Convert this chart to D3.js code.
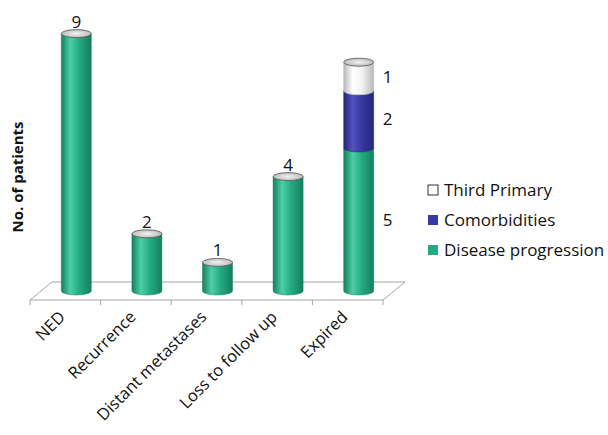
<!DOCTYPE html>
<html>
<head>
<meta charset="utf-8">
<script src="https://cdn.jsdelivr.net/npm/d3@7"></script>
<style>
  html, body { margin: 0; padding: 0; background: #fff; }
  svg { display: block; }
  text { font-family: "Open Sans", "Liberation Sans", sans-serif; fill: #111; }
</style>
</head>
<body>
<svg id="chart" width="608" height="435"></svg>
<script>
// Patient outcome categories and counts
const categories = ["NED", "Recurrence", "Distant metastases", "Loss to follow up", "Expired"];
const diseaseProgression = [9, 2, 1, 4, 5];
const comorbidities = [0, 0, 0, 0, 2];
const thirdPrimary = [0, 0, 0, 0, 1];
const seriesNames = ["Third Primary", "Comorbidities", "Disease progression"];
const yMax = 9;

const svg = d3.select("#chart");
const defs = svg.append("defs");

// floor geometry (oblique 3D floor)
const floorLeft = 30, floorRight = 383, floorFront = 300;
const depthX = 22, depthY = 18;

const x = d3.scaleBand().domain(categories).range([floorLeft, floorRight]).padding(0);
const y = d3.scaleLinear().domain([0, yMax]).range([floorFront - depthY / 2, 33.6]);

const palette = {
  "Disease progression": { dark: "#157f60", mid: "#24aa82", light: "#4ccfa4" },
  "Comorbidities": { dark: "#26267a", mid: "#3838a4", light: "#5252be" },
  "Third Primary": { dark: "#b8b8b8", mid: "#f4f4f4", light: "#ffffff" }
};
Object.entries(palette).forEach(([name, c], i) => {
  const g = defs.append("linearGradient").attr("id", "grad" + i)
    .attr("x1", "0").attr("x2", "1").attr("y1", "0").attr("y2", "0");
  g.append("stop").attr("offset", "0%").attr("stop-color", c.dark);
  g.append("stop").attr("offset", "30%").attr("stop-color", c.light);
  g.append("stop").attr("offset", "60%").attr("stop-color", c.mid);
  g.append("stop").attr("offset", "100%").attr("stop-color", c.dark);
  c.id = "grad" + i;
});
const capGrad = defs.append("radialGradient").attr("id", "capGrad");
capGrad.append("stop").attr("offset", "0%").attr("stop-color", "#f2f2f2");
capGrad.append("stop").attr("offset", "100%").attr("stop-color", "#bdbdbd");

// floor
svg.append("path")
  .attr("d", `M${floorLeft},${floorFront} L${floorLeft + depthX},${floorFront - depthY} L${floorRight + depthX},${floorFront - depthY} L${floorRight},${floorFront} Z`)
  .attr("fill", "#fff").attr("stroke", "#a6a6a6").attr("stroke-width", 1);

// ticks on the front floor edge at band boundaries
const tickXs = categories.map(c => x(c)).concat([floorRight]);
svg.selectAll("line.tick").data(tickXs).join("line")
  .attr("x1", d => d).attr("x2", d => d)
  .attr("y1", floorFront).attr("y2", floorFront + 5)
  .attr("stroke", "#a6a6a6");

// stacked cylinders
const rx = 15, ry = 4;
const cx = c => x(c) + x.bandwidth() / 2 + depthX / 2;

categories.forEach((cat, i) => {
  const segs = [
    { name: "Disease progression", v: diseaseProgression[i] },
    { name: "Comorbidities", v: comorbidities[i] },
    { name: "Third Primary", v: thirdPrimary[i] }
  ];
  let base = 0;
  const xc = cx(cat);
  const g = svg.append("g");
  segs.forEach(s => {
    if (!s.v) return;
    const y0 = y(base), y1 = y(base + s.v);
    const c = palette[s.name];
    g.append("path")
      .attr("d", `M${xc - rx},${y1} L${xc - rx},${y0} A${rx},${ry} 0 0 0 ${xc + rx},${y0} L${xc + rx},${y1} Z`)
      .attr("fill", `url(#${c.id})`)
      .attr("stroke", c.dark).attr("stroke-width", 0.5);
    s.y0 = y0; s.y1 = y1;
    base += s.v;
  });
  // top cap
  g.append("ellipse")
    .attr("cx", xc).attr("cy", y(base)).attr("rx", rx).attr("ry", ry)
    .attr("fill", "url(#capGrad)").attr("stroke", "#555").attr("stroke-width", 0.8);

  if (cat === "Expired") {
    segs.forEach(s => {
      if (!s.v) return;
      svg.append("text")
        .attr("x", xc + rx + 14).attr("y", (s.y0 + s.y1) / 2 + 6)
        .attr("text-anchor", "middle").attr("font-size", 17)
        .text(s.v);
    });
  } else {
    svg.append("text")
      .attr("x", xc).attr("y", y(base) - 6)
      .attr("text-anchor", "middle").attr("font-size", 17)
      .text(base);
  }
});

// category labels, rotated
categories.forEach(cat => {
  const lx = x(cat) + x.bandwidth() / 2 + 1, ly = floorFront + 18;
  svg.append("text")
    .attr("transform", `translate(${lx},${ly}) rotate(-45)`)
    .attr("text-anchor", "end").attr("font-size", 16.5)
    .text(cat);
});

// y-axis title
svg.append("text")
  .attr("transform", "translate(23,177) rotate(-90)")
  .attr("text-anchor", "middle").attr("font-size", 15).attr("font-weight", "bold")
  .text("No. of patients");

// legend
const legend = svg.append("g").attr("transform", "translate(428,190)");
seriesNames.forEach((name, i) => {
  const row = legend.append("g").attr("transform", `translate(0,${i * 30})`);
  row.append("rect").attr("x", 0).attr("y", -5).attr("width", 10).attr("height", 10)
    .attr("fill", name === "Third Primary" ? "#fff" : palette[name].mid)
    .attr("stroke", name === "Third Primary" ? "#333" : "none");
  row.append("text").attr("x", 16).attr("y", 6).attr("font-size", 17).text(name);
});
</script>
</body>
</html>
